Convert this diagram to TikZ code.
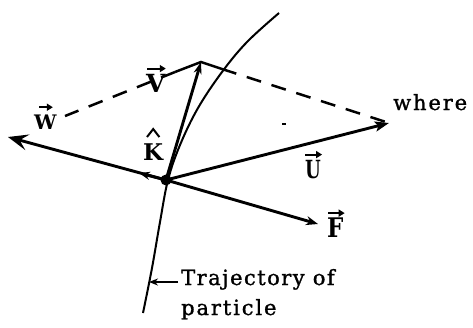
\documentclass[tikz,border=0pt]{standalone}
\usepackage{fontspec}
\setmainfont{DejaVu Serif}
\usetikzlibrary{arrows.meta}
\begin{document}
\begin{tikzpicture}[x=1pt,y=-1pt,
  vec/.style={line width=2.9pt,-{Stealth[length=14pt,width=10pt,inset=3pt]}},
  dsh/.style={line width=2.5pt,dash pattern=on 15pt off 11pt},
  traj/.style={line width=2pt},
  lab/.style={inner sep=0pt,anchor=base west,font=\fontsize{25}{25}\selectfont\bfseries},
  acc/.style={line width=1.9pt,-{Triangle[length=6pt,width=7pt]}},
  hatmark/.style={line width=2pt,line join=miter},
  txt/.style={inner sep=0pt,anchor=base west,font=\fontsize{21}{21}\selectfont\addfontfeature{LetterSpace=9,FakeBold=1.2}}]
\useasboundingbox (0,0) rectangle (473,327);
% points
\coordinate (P) at (166,180);
\coordinate (Vt) at (201,62);
\coordinate (Wt) at (8,137);
\coordinate (Ut) at (389,123);
\coordinate (Ft) at (318,224);
\coordinate (Kt) at (139,173);
\coordinate (Ls) at (175,72);
\coordinate (Le) at (65,116);
\coordinate (Rs) at (222,69);
\coordinate (Ta) at (178,282);
\coordinate (Tb) at (149,282);
% trajectory
\draw[traj] plot[smooth,tension=0.6] coordinates {(279,13) (247,42) (222,72) (198,108) (180,145) (168,180) (160,222) (152,268) (143,313)};
% parallelogram sides
\draw[line width=2.5pt] (Ls) -- (Vt) -- (Rs);
\draw[dsh] (Ls) -- (Le);
\draw[dsh] (Rs) -- (Ut);
% vectors
\draw[vec,-{Stealth[length=12pt,width=8pt]}] (P) -- (Vt);
\draw[vec,-{Stealth[length=20pt,width=16pt,inset=8pt]}] (P) -- (Wt);
\draw[vec] (P) -- (Ut);
\draw[vec,-{Stealth[length=12pt,width=9pt]}] (P) -- (Ft);
\draw[line width=2.9pt,-{Stealth[length=11pt,width=8pt]}] (P) -- (Kt);
\fill (P) circle (5.5pt);
\draw[line width=1.6pt] (282,124) -- (286,124);
% trajectory pointer
\draw[line width=2pt,-{Stealth[length=9pt,width=7pt]}] (Ta) -- (Tb);
% labels
\node[lab] (lV) at (146,92) {V};
\node[lab,font=\fontsize{20}{20}\selectfont\bfseries] (lW) at (34,129) {W};
\node[lab,font=\fontsize{23}{23}\selectfont\bfseries] (lK) at (143,160) {K};
\node[lab] (lU) at (305,178) {\scalebox{0.72}[1]{U}};
\node[lab,font=\fontsize{27}{27}\selectfont\bfseries] (lF) at (327,237) {\scalebox{0.85}[1]{F}};
\draw[acc] ([xshift=1pt,yshift=5pt]lV.north west) -- ([xshift=0pt,yshift=5pt]lV.north east);
\draw[acc] ([xshift=5pt,yshift=7pt]lW.north west) -- ([xshift=-4pt,yshift=7pt]lW.north east);
\draw[acc] ([xshift=0pt,yshift=5pt]lU.north west) -- ([xshift=1pt,yshift=5pt]lU.north east);
\draw[acc] ([xshift=1pt,yshift=4pt]lF.north west) -- ([xshift=1pt,yshift=4pt]lF.north east);
\draw[hatmark] ([xshift=4pt,yshift=6pt]lK.north west) -- ([yshift=14pt]lK.north) -- ([xshift=-4pt,yshift=6pt]lK.north east);
\node[txt] (wh) at (393,110) {where};
\node[txt,font=\fontsize{21}{21}\selectfont\addfontfeature{LetterSpace=7,FakeBold=1.2}] (tr) at (181,285) {Trajectory of};
\node[txt] (pa) at (181,315) {particle};
\end{tikzpicture}
\end{document}
